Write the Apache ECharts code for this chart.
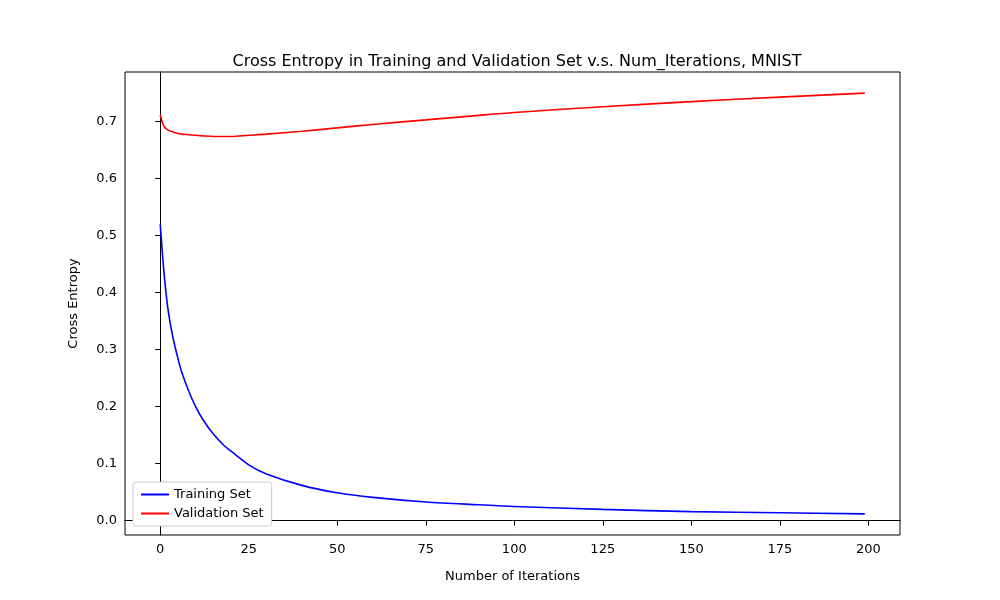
<!DOCTYPE html>
<html><head><meta charset="utf-8">
<script src="https://cdn.jsdelivr.net/npm/echarts@6/dist/echarts.min.js"></script>
<style>body{margin:0}#c{width:1000px;height:600px}</style></head>
<body><div id="c"></div>
<script>
const iters = [0,1,2,3,4,5,6,8,10,12,15,18,20,25,30,40,50,60,75,90,100,125,150,175,199];
const training = [0.52,0.44,0.38,0.34,0.31,0.285,0.262,0.228,0.2,0.178,0.152,0.132,0.122,0.098,0.082,0.062,0.049,0.041,0.033,0.028,0.025,0.02,0.016,0.014,0.012];
const validation = [0.712,0.692,0.686,0.683,0.681,0.679,0.678,0.677,0.676,0.675,0.674,0.674,0.674,0.676,0.678,0.683,0.689,0.695,0.703,0.711,0.716,0.726,0.735,0.743,0.75];
const xTicks = [0,25,50,75,100,125,150,175,200];
const yTicks = [0,0.1,0.2,0.3,0.4,0.5,0.6,0.7];
const font = 'DejaVu Sans';
const chart = echarts.init(document.getElementById('c'));
chart.setOption({
  animation:false,
  textStyle:{fontFamily:font},
  title:{text:'Cross Entropy in Training and Validation Set v.s. Num_Iterations, MNIST',left:512,top:49,textAlign:'center',textStyle:{fontFamily:font,fontSize:16,fontWeight:'normal',color:'#000'}},
  grid:{left:125,right:100,top:72,bottom:65,show:true,borderColor:'#000',borderWidth:1},
  legend:{orient:'vertical',left:133,top:482,itemWidth:28,itemHeight:2,itemGap:6,padding:[6,8],
    borderColor:'#ccc',borderWidth:1,borderRadius:3,backgroundColor:'#fff',
    textStyle:{fontFamily:font,fontSize:13,color:'#000'},
    data:[{name:'Training Set',icon:'rect'},{name:'Validation Set',icon:'rect'}]},
  xAxis:{type:'value',min:-9.95,max:208.95,name:'Number of Iterations',nameLocation:'middle',nameGap:35,
    nameTextStyle:{fontFamily:font,fontSize:13,color:'#000'},
    axisLine:{show:true,lineStyle:{color:'#000'}},splitLine:{show:false},
    axisTick:{show:true,inside:false,length:5,customValues:xTicks,lineStyle:{color:'#000'}},
    axisLabel:{customValues:xTicks,fontSize:13,color:'#000',fontFamily:font}},
  yAxis:{type:'value',min:-0.025,max:0.787,name:'Cross Entropy',nameLocation:'middle',nameGap:45,
    nameTextStyle:{fontFamily:font,fontSize:13,color:'#000'},
    axisLine:{show:true,lineStyle:{color:'#000'}},splitLine:{show:false},
    axisTick:{show:true,length:5,customValues:yTicks,lineStyle:{color:'#000'}},
    axisLabel:{customValues:yTicks,fontSize:13,color:'#000',fontFamily:font,formatter:v=>v.toFixed(1)}},
  series:[
    {name:'Training Set',type:'line',showSymbol:false,smooth:0.3,color:'#0000ff',lineStyle:{width:1.6},
      data:iters.map((x,i)=>[x,training[i]])},
    {name:'Validation Set',type:'line',showSymbol:false,smooth:0.3,color:'#ff0000',lineStyle:{width:1.6},
      data:iters.map((x,i)=>[x,validation[i]])}
  ]
});
</script></body></html>
